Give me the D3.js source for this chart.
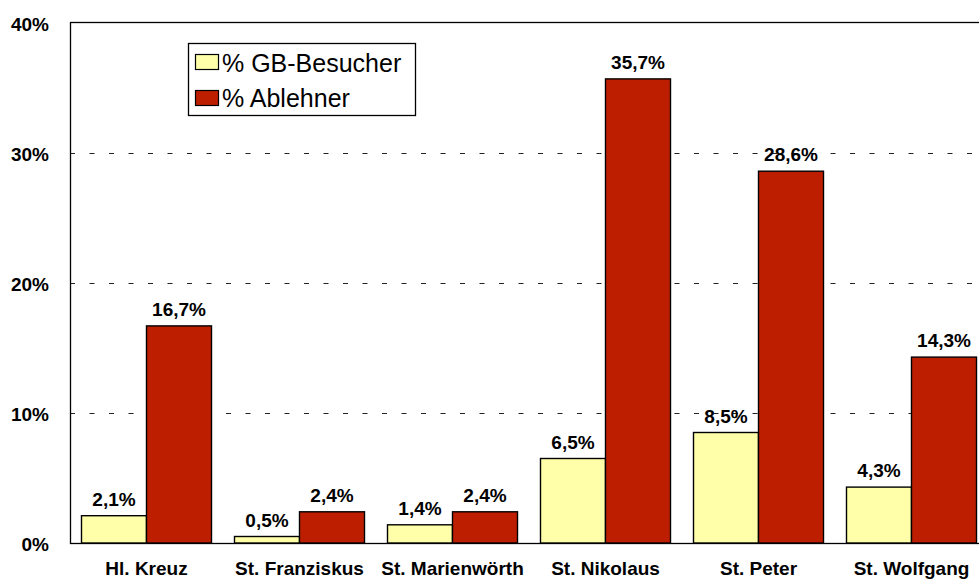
<!DOCTYPE html>
<html><head><meta charset="utf-8">
<script src="https://cdn.jsdelivr.net/npm/d3@7"></script>
<style>body{margin:0;background:#fff}svg{display:block;font-family:"Liberation Sans",Arial,sans-serif}</style>
</head><body>
<svg id="c" width="979" height="580"></svg>
<script>
const categories = ["Hl. Kreuz","St. Franziskus","St. Marienwörth","St. Nikolaus","St. Peter","St. Wolfgang"];
const seriesNames = ["% GB-Besucher","% Ablehner"];
const besucher = [2.1,0.5,1.4,6.5,8.5,4.3];
const ablehner = [16.7,2.4,2.4,35.7,28.6,14.3];
const yTicks = [0,10,20,30,40];
const colors = ["#FFFFAA","#BE1E00"];

const svg = d3.select("#c");
const L=70, R=988, T=23, B=543;
const x = d3.scaleBand().domain(categories).range([L,R]).paddingInner(23/153).paddingOuter(11.5/153);
const sub = d3.scaleBand().domain([0,1]).range([0,x.bandwidth()]);
const y = d3.scaleLinear().domain([0,40]).range([B,T]);

// gridlines
svg.append("g").selectAll("line").data(yTicks.filter(t=>t>0&&t<40)).join("line")
  .attr("x1",L).attr("x2",R).attr("y1",d=>y(d)+0.5).attr("y2",d=>y(d)+0.5)
  .attr("stroke","#222").attr("stroke-width",1).attr("stroke-dasharray","5,14.5");

// frame
svg.append("rect").attr("x",L+0.5).attr("y",T-0.5).attr("width",R-L).attr("height",B-T+1)
  .attr("fill","none").attr("stroke","#000").attr("stroke-width",1.3);

const data = [besucher, ablehner];
const fmt = v => v.toFixed(1).replace(".",",")+"%";
categories.forEach((c,i)=>{
  data.forEach((s,j)=>{
    const bx = x(c)+sub(j), bw = sub.bandwidth();
    svg.append("rect").attr("x",bx).attr("y",y(s[i])).attr("width",bw).attr("height",y(0)-y(s[i]))
      .attr("fill",colors[j]).attr("stroke","#000").attr("stroke-width",1.4);
    svg.append("text").attr("x",bx+bw/2).attr("y",y(s[i])-10).attr("text-anchor","middle")
      .attr("font-size",19).attr("font-weight","bold").text(fmt(s[i]));
  });
});

// axes
const yAxis = d3.axisLeft(y).tickValues(yTicks).tickFormat(d=>d+"%").tickSize(0).tickPadding(21);
const ya = svg.append("g").attr("transform",`translate(${L},0)`).call(yAxis);
ya.select(".domain").remove();
ya.selectAll("text").attr("font-size",19).attr("font-weight","bold").attr("fill","#000")
  .attr("font-family","Liberation Sans, Arial, sans-serif").attr("dy","0.38em");

const xAxis = d3.axisBottom(x).tickSize(0).tickPadding(0);
const xa = svg.append("g").attr("transform",`translate(0,${B})`).call(xAxis);
xa.select(".domain").remove();
xa.selectAll("text").attr("font-size",19).attr("font-weight","bold").attr("fill","#000")
  .attr("font-family","Liberation Sans, Arial, sans-serif").attr("y",32).attr("dy",0);

// legend
const lg = svg.append("g");
lg.append("rect").attr("x",188.5).attr("y",43.5).attr("width",227).attr("height",72).attr("fill","#fff").attr("stroke","#000").attr("stroke-width",1.3);
seriesNames.forEach((n,j)=>{
  lg.append("rect").attr("x",195.5).attr("y",54.5+j*36).attr("width",23).attr("height",15).attr("fill",colors[j]).attr("stroke","#000").attr("stroke-width",1.2);
  lg.append("text").attr("x",222).attr("y",72+j*35).attr("font-size",25).text(n);
});
</script>
</body></html>
